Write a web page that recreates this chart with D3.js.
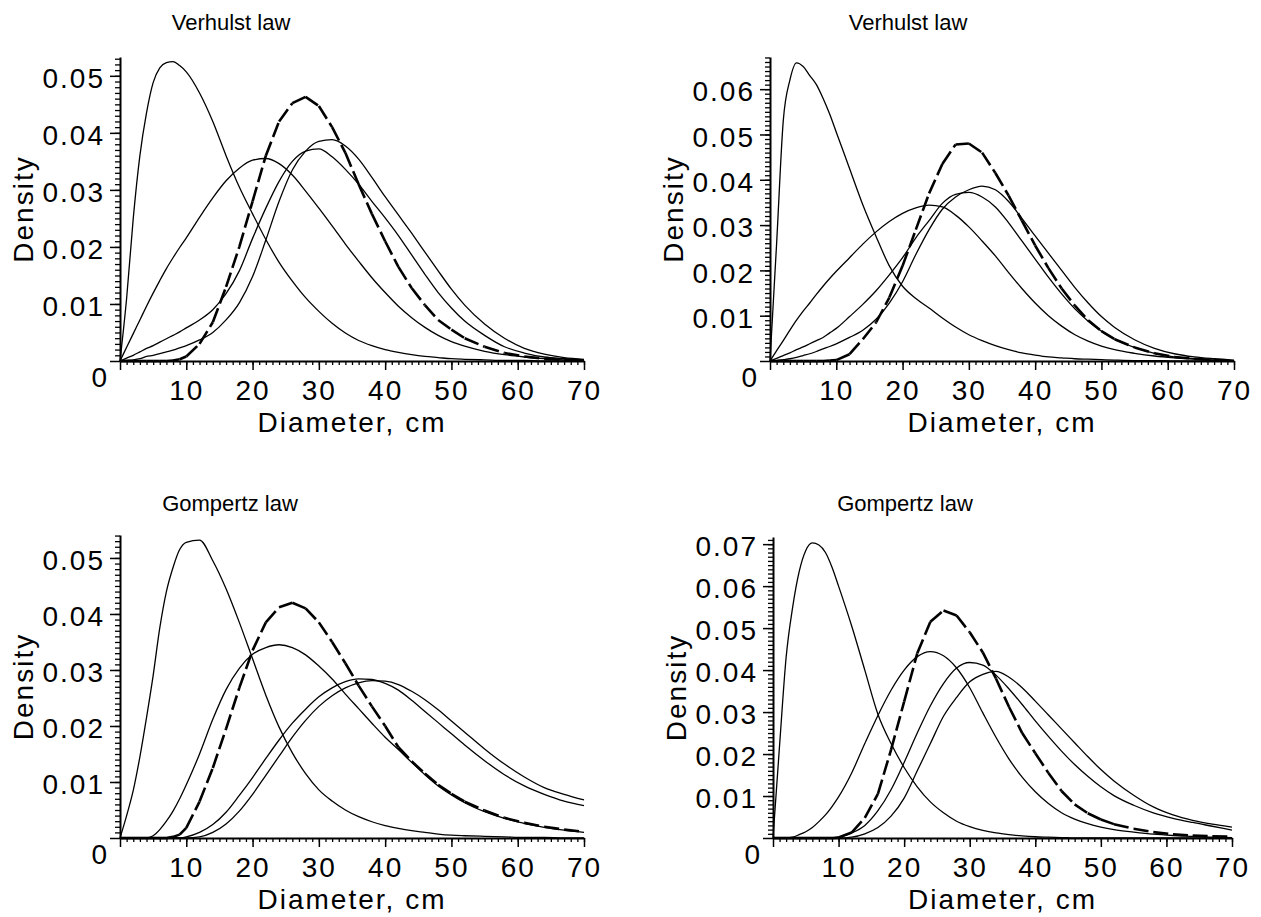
<!DOCTYPE html>
<html>
<head>
<meta charset="utf-8">
<script src="https://cdn.jsdelivr.net/npm/d3@7/dist/d3.min.js"></script>
<style>
  body { margin: 0; background: #fff; }
  svg text { font-family: "Liberation Sans", Arial, sans-serif; fill: #000; }
</style>
</head>
<body>
<svg id="chart" width="1261" height="917"></svg>
<script>
// diameter grid (cm) shared by every curve
var xs = [0,1,2,3,4,5,6,7,8,9,10,12,14,16,18,20,22,24,26,28,30,32,34,36,38,40,42,44,46,48,50,52,55,58,61,64,67,70];

var xTicks = [0,10,20,30,40,50,60,70];
var yTicksA = [0,0.01,0.02,0.03,0.04,0.05];
var yTicksB = [0,0.01,0.02,0.03,0.04,0.05,0.06];
var yTicksC = [0,0.01,0.02,0.03,0.04,0.05,0.06,0.07];

var titles = ["Verhulst law", "Verhulst law", "Gompertz law", "Gompertz law"];

// Verhulst, left
var vA1 = [0,0.011,0.025,0.036,0.0435,0.0488,0.0514,0.0523,0.0525,0.0518,0.0507,0.047,0.042,0.036,0.0305,0.0258,0.0213,0.0173,0.014,0.0111,0.0087,0.0066,0.0049,0.0036,0.0027,0.002,0.0015,0.0011,0.0008,0.0006,0.0004,0.0003,0.0002,0.0001,0.0001,0,0,0];
var vB1 = [0,0.0024,0.0048,0.0072,0.0096,0.0119,0.0141,0.0162,0.0181,0.0199,0.0216,0.0252,0.0286,0.0316,0.0338,0.0352,0.0355,0.0346,0.0326,0.0298,0.0268,0.0237,0.0205,0.0175,0.0146,0.012,0.0096,0.0076,0.0059,0.0045,0.0034,0.0026,0.0017,0.0011,0.0007,0.0004,0.0002,0.0001];
var vC1 = [0,0.0001,0.0002,0.0004,0.0008,0.001,0.0013,0.0016,0.0019,0.0023,0.0027,0.0037,0.005,0.0072,0.0102,0.0148,0.0212,0.028,0.0335,0.0368,0.0385,0.0388,0.0377,0.0354,0.0322,0.0288,0.0256,0.0224,0.0191,0.0158,0.0126,0.0098,0.0065,0.004,0.0022,0.0012,0.0006,0.0003];
var vD1 = [0,0.0005,0.001,0.0016,0.0022,0.0027,0.0033,0.0039,0.0045,0.0051,0.0058,0.0072,0.009,0.0118,0.0158,0.0215,0.0268,0.0315,0.035,0.0368,0.0372,0.0358,0.0336,0.031,0.028,0.0251,0.022,0.0186,0.0152,0.012,0.0093,0.007,0.0045,0.0025,0.0014,0.0007,0.0004,0.0002];
var vE1 = [0,0,0,0,0,0,0,0,0.0001,0.0003,0.0008,0.003,0.0068,0.013,0.02,0.028,0.036,0.042,0.0452,0.0463,0.0447,0.041,0.0365,0.031,0.0258,0.021,0.0165,0.0128,0.0098,0.0072,0.0055,0.004,0.0025,0.0014,0.0008,0.0004,0.0002,0.0001];

// Verhulst, right
var vA2 = [0,0.026,0.053,0.062,0.0658,0.065,0.063,0.061,0.058,0.0545,0.0505,0.0425,0.0345,0.0275,0.021,0.0165,0.0138,0.0117,0.0095,0.0075,0.0058,0.0045,0.0034,0.0025,0.0018,0.0013,0.0009,0.0007,0.0005,0.0004,0.0003,0.0002,0.0001,0.0001,0,0,0,0];
var vB2 = [0,0.0023,0.0045,0.0068,0.009,0.011,0.0128,0.0147,0.0165,0.0182,0.0198,0.0228,0.0258,0.0285,0.0308,0.0326,0.0338,0.0344,0.034,0.0322,0.0296,0.0265,0.0232,0.0195,0.016,0.0128,0.01,0.0077,0.0058,0.0044,0.0033,0.0025,0.0017,0.0011,0.0007,0.0004,0.0002,0.0001];
var vC2 = [0,0.0001,0.0003,0.0005,0.0008,0.0012,0.0016,0.0021,0.0027,0.0032,0.0038,0.0052,0.0068,0.0092,0.0128,0.0175,0.0235,0.029,0.0335,0.0362,0.0378,0.0386,0.0378,0.0352,0.0315,0.0276,0.0238,0.02,0.0162,0.0128,0.0098,0.0074,0.0047,0.0028,0.0016,0.0009,0.0005,0.0002];
var vD2 = [0,0.0006,0.0012,0.0018,0.0025,0.0031,0.0038,0.0045,0.0052,0.0062,0.0072,0.0098,0.0125,0.0155,0.019,0.0228,0.0272,0.031,0.0348,0.0368,0.0372,0.0362,0.034,0.0305,0.0265,0.0225,0.0185,0.0148,0.0115,0.0088,0.0066,0.0048,0.003,0.0017,0.0009,0.0005,0.0002,0.0001];
var vE2 = [0,0,0,0,0,0,0,0,0,0.0001,0.0002,0.0015,0.0048,0.0085,0.014,0.021,0.029,0.037,0.0435,0.0478,0.048,0.046,0.0415,0.0365,0.031,0.0255,0.0205,0.016,0.0122,0.009,0.0066,0.0048,0.003,0.0017,0.0009,0.0005,0.0002,0.0001];

// Gompertz, left
var vA3 = [0,0.004,0.0085,0.0145,0.0215,0.029,0.0375,0.044,0.0483,0.0515,0.0528,0.0532,0.0495,0.0445,0.0385,0.032,0.0255,0.0198,0.0152,0.0115,0.0086,0.0066,0.005,0.0038,0.0029,0.0022,0.0017,0.0013,0.001,0.0007,0.0005,0.0004,0.0003,0.0002,0.0001,0.0001,0,0];
var vB3 = [0,0,0,0,0,0.0004,0.0015,0.003,0.0048,0.007,0.0095,0.015,0.0212,0.0265,0.0303,0.0328,0.034,0.0345,0.034,0.0327,0.0307,0.0284,0.0257,0.0231,0.0205,0.018,0.0158,0.0135,0.0113,0.0093,0.0077,0.0063,0.0047,0.0035,0.0026,0.0019,0.0014,0.001];
var vC3 = [0,0,0,0,0,0,0,0,0,0,0.0002,0.001,0.0024,0.0046,0.0076,0.0108,0.0142,0.0175,0.0205,0.023,0.0252,0.0268,0.0279,0.0284,0.0283,0.0276,0.0264,0.0246,0.0226,0.0206,0.0186,0.0166,0.0138,0.0113,0.0093,0.0078,0.0066,0.0058];
var vD3 = [0,0,0,0,0,0,0,0,0,0,0,0.0002,0.001,0.0025,0.0048,0.0078,0.0112,0.0146,0.018,0.021,0.0235,0.0254,0.0268,0.0277,0.0281,0.028,0.0274,0.0262,0.0247,0.0229,0.0209,0.0189,0.0159,0.0132,0.0109,0.009,0.0078,0.0068];
var vE3 = [0,0,0,0,0,0,0,0,0.0002,0.0006,0.0018,0.0065,0.0125,0.0195,0.0268,0.0335,0.0385,0.0412,0.042,0.041,0.0385,0.035,0.0312,0.0272,0.0235,0.02,0.0162,0.0137,0.0115,0.0095,0.0079,0.0065,0.0049,0.0036,0.0027,0.002,0.0015,0.0011];

// Gompertz, right
var vA4 = [0,0.022,0.043,0.055,0.0635,0.0685,0.0703,0.0698,0.068,0.0645,0.06,0.0505,0.04,0.0295,0.0225,0.0168,0.0122,0.0086,0.006,0.004,0.0027,0.0018,0.0012,0.0008,0.0005,0.0003,0.0002,0.0001,0,0,0,0,0,0,0,0,0,0];
var vB4 = [0,0,0,0.0002,0.0008,0.0015,0.0025,0.0039,0.0055,0.0075,0.0098,0.0155,0.0225,0.0292,0.0352,0.04,0.0432,0.0444,0.0434,0.0405,0.0358,0.0298,0.024,0.0188,0.0145,0.011,0.0082,0.006,0.0045,0.0034,0.0026,0.002,0.0014,0.0009,0.0006,0.0004,0.0002,0.0001];
var vC4 = [0,0,0,0,0,0,0,0,0,0,0,0.0002,0.001,0.0025,0.0052,0.0095,0.016,0.0225,0.029,0.0335,0.0372,0.039,0.0397,0.0383,0.0358,0.0326,0.0293,0.026,0.0227,0.0194,0.0163,0.0136,0.0102,0.0074,0.0055,0.0042,0.0033,0.0026];
var vD4 = [0,0,0,0,0,0,0,0,0,0,0.0002,0.0012,0.003,0.0065,0.0115,0.018,0.025,0.0315,0.0368,0.0405,0.0418,0.0412,0.0388,0.0355,0.0318,0.0279,0.0242,0.0207,0.0175,0.0147,0.0122,0.0101,0.0078,0.006,0.0047,0.0037,0.0028,0.0019];
var vE4 = [0,0,0,0,0,0,0,0,0,0,0.0001,0.0013,0.0048,0.0105,0.021,0.0325,0.044,0.0515,0.0542,0.053,0.049,0.0442,0.038,0.0312,0.025,0.0202,0.0155,0.0112,0.008,0.0059,0.0044,0.0033,0.0022,0.0014,0.0009,0.0006,0.0004,0.0003];

var panels = [
  { left: 120, right: 584, bottom: 361, top: 57, yMax: 0.0533, yTicks: yTicksA, titleX: 231, titleY: 30,
    thin: [vA1, vB1, vC1, vD1], bold: vE1, title: titles[0] },
  { left: 770, right: 1234, bottom: 361, top: 57, yMax: 0.0671, yTicks: yTicksB, titleX: 908, titleY: 30,
    thin: [vA2, vB2, vC2, vD2], bold: vE2, title: titles[1] },
  { left: 120, right: 584, bottom: 838, top: 535, yMax: 0.0541, yTicks: yTicksA, titleX: 230, titleY: 511,
    thin: [vA3, vB3, vC3, vD3], bold: vE3, title: titles[2] },
  { left: 773, right: 1232, bottom: 838, top: 537, yMax: 0.0717, yTicks: yTicksC, titleX: 905, titleY: 511,
    thin: [vA4, vB4, vC4, vD4], bold: vE4, title: titles[3] }
];

var svg = d3.select("#chart");
var labelFont = "\"Liberation Sans\", Arial, sans-serif";
var bigSize = 28;

function styleAxis(sel) {
  sel.attr("font-size", bigSize).attr("font-family", labelFont);
  sel.selectAll("text").attr("fill", "#000").style("letter-spacing", "2px");
  sel.selectAll("line").attr("stroke", "#000").attr("stroke-width", 1.5);
  sel.select(".domain").attr("stroke", "#000").attr("stroke-width", 2);
}

panels.forEach(function(p) {
  var g = svg.append("g");

  var x = d3.scaleLinear().domain([0, 70]).range([p.left, p.right]);
  var y = d3.scaleLinear().domain([0, p.yMax]).range([p.bottom, p.top]);

  // minor ticks first
  var yMinor = d3.range(1, Math.floor(p.yMax * 1000 + 1e-6) + 1).map(function(k) { return k / 1000; });
  var xMinor = d3.range(1, 71);

  g.append("g")
    .attr("transform", "translate(" + p.left + ",0)")
    .call(d3.axisLeft(y).tickValues(yMinor).tickSize(5).tickSizeOuter(0).tickFormat(""))
    .call(function(s) { s.select(".domain").remove(); s.selectAll("line").attr("stroke", "#000").attr("stroke-width", 1.3); });

  g.append("g")
    .attr("transform", "translate(0," + p.bottom + ")")
    .call(d3.axisBottom(x).tickValues(xMinor).tickSize(4).tickSizeOuter(0).tickFormat(""))
    .call(function(s) { s.select(".domain").remove(); s.selectAll("line").attr("stroke", "#000").attr("stroke-width", 1.3); });

  // major axes
  var yAxis = g.append("g")
    .attr("transform", "translate(" + p.left + ",0)")
    .call(d3.axisLeft(y).tickValues(p.yTicks).tickSize(10).tickSizeOuter(0).tickPadding(5)
      .tickFormat(function(d) { return d === 0 ? "" : d3.format(".2f")(d); }));
  styleAxis(yAxis);
  yAxis.selectAll("text").attr("dy", "0.42em");

  var xAxis = g.append("g")
    .attr("transform", "translate(0," + p.bottom + ")")
    .call(d3.axisBottom(x).tickValues(xTicks).tickSize(9).tickSizeOuter(0).tickPadding(10)
      .tickFormat(function(d) { return d === 0 ? "" : d; }));
  styleAxis(xAxis);

  // origin label sits below-left of the corner
  g.append("text")
    .attr("x", p.left - 13)
    .attr("y", p.bottom + 26)
    .attr("text-anchor", "end")
    .attr("font-size", bigSize)
    .text("0");

  // axis titles
  g.append("text")
    .attr("transform", "translate(" + (p.left - 87) + "," + ((p.bottom + p.top) / 2) + ") rotate(-90)")
    .attr("text-anchor", "middle")
    .attr("font-size", bigSize)
    .style("letter-spacing", "2px")
    .text("Density");

  g.append("text")
    .attr("x", (p.left + p.right) / 2)
    .attr("y", p.bottom + 71)
    .attr("text-anchor", "middle")
    .attr("font-size", bigSize)
    .style("letter-spacing", "2px")
    .text("Diameter, cm");

  g.append("text")
    .attr("x", p.titleX)
    .attr("y", p.titleY)
    .attr("text-anchor", "middle")
    .attr("font-size", 22)
    .text(p.title);

  // thin curves
  var line = d3.line()
    .x(function(d) { return x(d[0]); })
    .y(function(d) { return y(d[1]); })
    .curve(d3.curveMonotoneX);

  g.selectAll(".thin")
    .data(p.thin)
    .join("path")
    .attr("class", "thin")
    .attr("fill", "none")
    .attr("stroke", "#000")
    .attr("stroke-width", 1.3)
    .attr("d", function(vals) { return line(xs.map(function(xv, k) { return [xv, vals[k]]; })); });

  // bold dashed curve, dash pattern restarts on every segment
  var boldPts = xs.map(function(xv, k) { return [xv, p.bold[k]]; });
  var segLine = d3.line()
    .x(function(d) { return x(d[0]); })
    .y(function(d) { return y(d[1]); });

  g.selectAll(".bold")
    .data(d3.pairs(boldPts))
    .join("path")
    .attr("class", "bold")
    .attr("fill", "none")
    .attr("stroke", "#000")
    .attr("stroke-width", 2.6)
    .attr("stroke-dasharray", "15,5")
    .attr("d", function(pair) { return segLine(pair); });
});
</script>
</body>
</html>
